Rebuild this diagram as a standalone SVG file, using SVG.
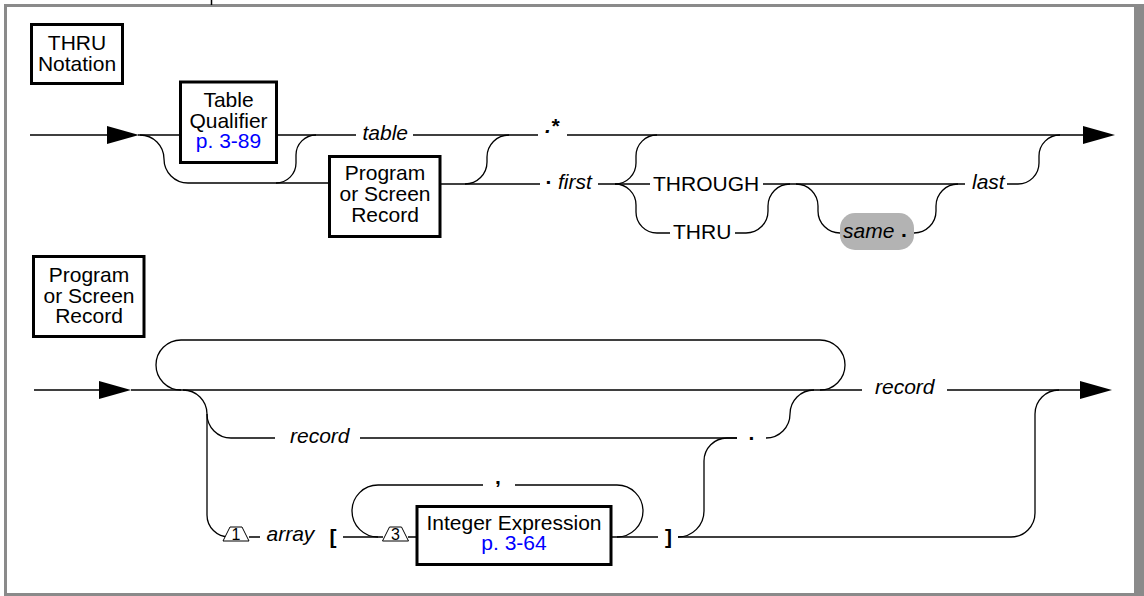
<svg xmlns="http://www.w3.org/2000/svg" width="1144" height="596" viewBox="0 0 1144 596">
<style>
.t{font-family:"Liberation Sans",Arial,sans-serif;font-size:21px;fill:#000}
.i{font-style:italic}
.b{font-weight:bold}
.c{text-anchor:middle}
.lnk{fill:#0000ff}
.box{fill:#fff;stroke:#000;stroke-width:3}
.ln{fill:none;stroke:#000;stroke-width:1.3}
.frame{fill:#8a8a8a}
.fn{fill:#fff;stroke:#000;stroke-width:1}
.fnt{font-family:"Liberation Sans",Arial,sans-serif;font-size:16px;text-anchor:middle}
</style>
<defs>
<polygon id="arr" points="0,-9 32,0 0,9" fill="#000"/>
</defs>
<rect width="1144" height="596" fill="#fff"/>
<g id="frame">
<rect class="frame" x="4" y="4" width="1140" height="3"/>
<rect class="frame" x="4" y="4" width="3" height="592"/>
<rect class="frame" x="4" y="593" width="1140" height="3"/>
<rect class="frame" x="1134" y="4" width="10" height="592"/>
<line x1="211.5" y1="0" x2="211.5" y2="5" stroke="#000" stroke-width="1.5"/>
</g>
<g id="connectors">
<path class="ln" d="M30 135H108M138 135H180M277 135H356M413 135H538M567 135H1084"/>
<path class="ln" d="M140 135A24 24 0 0 1 164 159A24 24 0 0 0 188 183H329"/>
<path class="ln" d="M276 183A20 20 0 0 0 296 163V155A20 20 0 0 1 316 135"/>
<path class="ln" d="M441 184H540"/>
<path class="ln" d="M465 184A22 22 0 0 0 487 162V157A22 22 0 0 1 509 135"/>
<path class="ln" d="M598 184H650"/>
<path class="ln" d="M615 184A21 21 0 0 0 636 163V156A21 21 0 0 1 657 135"/>
<path class="ln" d="M615 184A21 21 0 0 1 636 205V212A21 21 0 0 0 657 233H670"/>
<path class="ln" d="M763 184H965"/>
<path class="ln" d="M735 233H746A22 22 0 0 0 768 211V206A22 22 0 0 1 790 184"/>
<path class="ln" d="M796 184A22 22 0 0 1 818 206V211A22 22 0 0 0 840 233"/>
<path class="ln" d="M914 233A22 22 0 0 0 936 211V206A22 22 0 0 1 958 184"/>
<path class="ln" d="M1007 184H1018A21 21 0 0 0 1039 163V156A21 21 0 0 1 1060 135"/>
<path class="ln" d="M34 390H100M131 390H862M947 390H1081"/>
<path class="ln" d="M181 390A25 25 0 0 1 181 340H820A25 25 0 0 1 820 390"/>
<path class="ln" d="M183 390A24 24 0 0 1 207 414V515A22 22 0 0 0 229 537"/>
<path class="ln" d="M207 414A24 24 0 0 0 231 438H275M360 438H737"/>
<path class="ln" d="M766 438A24 24 0 0 0 790 414A24 24 0 0 1 814 390"/>
<path class="ln" d="M249 537H260M343 537H383M408 537H416"/>
<path class="ln" d="M378 537A26 26 0 0 1 378 485H483M515 485H617A26 26 0 0 1 617 537"/>
<path class="ln" d="M612 537H658"/>
<path class="ln" d="M678 537H1011A24 24 0 0 0 1035 513V414A24 24 0 0 1 1059 390"/>
<path class="ln" d="M678 537A26 26 0 0 0 704 511V461A23 23 0 0 1 727 438H737"/>
<use href="#arr" x="107" y="135"/>
<use href="#arr" x="1083" y="135"/>
<use href="#arr" x="99" y="390"/>
<use href="#arr" x="1080" y="390"/>
</g>
<g id="thru-notation">
<rect class="box" x="31.5" y="24.5" width="91" height="59"/>
<text class="t c" x="77" y="50">THRU</text>
<text class="t c" x="77" y="71">Notation</text>
</g>
<g id="table-qualifier">
<rect class="box" x="180.5" y="82" width="96" height="80.5"/>
<text class="t c" x="228.5" y="107">Table</text>
<text class="t c" x="228.5" y="128">Qualifier</text>
<text class="t c lnk" x="228.5" y="148">p. 3-89</text>
</g>
<g id="program-record-1">
<rect class="box" x="329.5" y="156.5" width="110.5" height="80"/>
<text class="t c" x="385" y="180">Program</text>
<text class="t c" x="385" y="201">or Screen</text>
<text class="t c" x="385" y="222">Record</text>
</g>
<g id="labels-top">
<text class="t i" x="362.5" y="140">table</text>
<text class="t i b" x="545" y="132.5">.*</text>
<text class="t b" x="545.5" y="183.5">.</text>
<text class="t i" x="558" y="189">first</text>
<text class="t" x="653" y="191">THROUGH</text>
<text class="t" x="673" y="238.5">THRU</text>
<text class="t i" x="972" y="189">last</text>
</g>
<g id="same">
<rect x="840" y="213" width="74" height="37" rx="15" fill="#b3b3b3"/>
<text class="t i" x="843" y="237.5">same</text>
<text class="t b" x="901" y="237">.</text>
</g>
<g id="program-record-2">
<rect class="box" x="33.5" y="256.5" width="110.5" height="80"/>
<text class="t c" x="89" y="281.5">Program</text>
<text class="t c" x="89" y="302.5">or Screen</text>
<text class="t c" x="89" y="323">Record</text>
</g>
<g id="labels-bottom">
<text class="t i" x="875" y="394">record</text>
<text class="t i" x="290" y="443">record</text>
<text class="t b" x="748.5" y="440">.</text>
<text class="t i" x="266.5" y="541">array</text>
<text class="t b" x="329.5" y="543.5">[</text>
<text class="t b" x="495" y="484">,</text>
<text class="t b" x="665" y="544">]</text>
</g>
<g id="note-1">
<polygon class="fn" points="223,541 249,541 242,527 230,527"/>
<text class="fnt" x="236" y="539.5">1</text>
</g>
<g id="note-3">
<polygon class="fn" points="382.5,541 408.5,541 401.5,527 389.5,527"/>
<text class="fnt" x="395.5" y="539.5">3</text>
</g>
<g id="integer-expression">
<rect class="box" x="417" y="506.5" width="194" height="58"/>
<text class="t c" x="514" y="530">Integer Expression</text>
<text class="t c lnk" x="514" y="550">p. 3-64</text>
</g>
</svg>
